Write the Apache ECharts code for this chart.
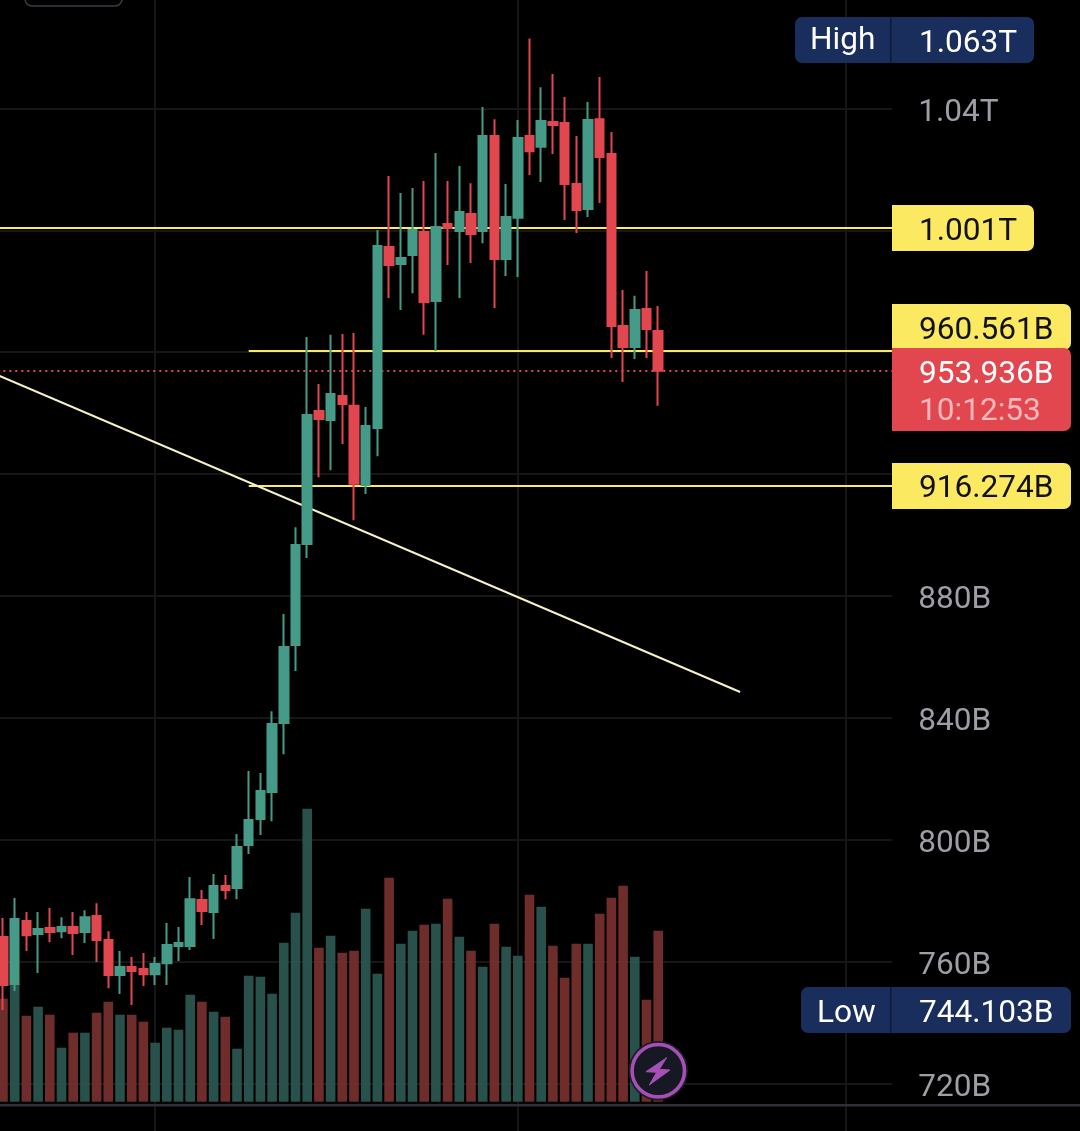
<!DOCTYPE html>
<html>
<head>
<meta charset="utf-8">
<style>html,body{margin:0;padding:0;background:#000}#c{width:1080px;height:1131px}</style>
<script src="https://cdn.jsdelivr.net/npm/echarts@6/dist/echarts.min.js"></script>
</head>
<body>
<div id="c"></div>
<script>
// Daily candles: [open, close, low, high], in billions
const candles = [
[768.1,752.3,744.1,774.3],[752.7,774.0,750.4,780.9],[773.3,768.7,763.5,776.3],[769.1,770.7,756.3,776.3],
[771.0,769.7,766.4,777.6],[770.0,771.4,767.7,774.6],[771.4,769.4,762.2,776.3],[769.7,774.6,766.1,776.9],
[775.0,767.1,759.9,779.2],[767.1,755.6,751.3,770.0],[755.6,758.2,749.4,763.5],[758.2,756.9,745.8,761.5],
[757.6,755.9,752.0,762.8],[755.9,759.2,752.3,761.5],[759.5,765.5,752.3,772.7],[765.1,766.1,760.2,771.4],
[765.1,780.5,763.8,787.8],[780.2,776.6,772.0,783.5],[776.3,784.8,767.4,788.8],[784.8,783.5,780.5,788.4],
[784.2,797.6,780.5,801.9],[798.3,806.5,795.3,822.6],[806.8,816.0,801.6,821.9],[815.7,838.0,806.1,842.2],
[838.3,863.3,828.1,874.1],[863.9,896.7,855.4,902.6],[897.1,939.4,892.5,965.0],[940.7,938.1,919.0,949.6],
[937.8,946.3,921.3,965.7],[945.6,943.0,929.9,966.0],[942.4,916.8,904.9,966.3],[916.4,935.8,913.5,942.0],
[935.1,994.9,925.9,1000.1],[994.5,988.6,977.8,1017.8],[989.0,990.9,973.9,1012.3],[991.9,1000.1,979.4,1013.9],
[999.5,976.5,965.7,1016.2],[976.8,1001.1,960.4,1025.4],[1002.1,1000.8,988.6,1016.2],[999.8,1006.0,977.8,1021.1],
[1005.4,998.8,989.3,1015.5],[999.8,1031.0,995.8,1040.5],[1031.0,990.6,974.5,1036.5],[990.6,1004.4,985.0,1015.2],
[1004.1,1030.3,984.7,1036.2],[1031.0,1026.0,1018.2,1063.0],[1027.4,1035.9,1015.9,1047.0],[1035.6,1034.6,1025.1,1051.3],
[1035.2,1015.2,1003.4,1043.8],[1015.2,1006.7,999.1,1031.0],[1007.0,1036.2,1004.4,1042.1],[1036.5,1024.1,1009.0,1050.3],
[1025.1,968.6,958.1,1032.3],[968.6,961.7,950.2,980.4],[961.7,973.9,957.8,978.5],[974.2,967.6,958.1,986.7],
[967.0,953.936,942.4,975.2]
];
// Volume per candle
const volumes = [
10.3,11.8,8.6,9.5,8.7,5.4,6.9,6.9,8.9,10.0,8.7,8.7,8.0,5.9,7.4,7.2,10.7,10.0,9.0,8.5,
5.3,12.6,12.5,10.8,15.9,18.9,29.3,15.4,16.6,14.9,15.1,19.3,12.8,22.4,15.8,17.1,17.7,17.8,20.3,16.5,
15.1,13.5,17.8,15.5,14.6,20.7,19.5,15.6,12.4,15.8,15.8,18.8,20.4,21.6,14.5,10.2,17.1
];
const leadingBlanks = 1;
const trailingBlanks = 20;
const gridLineIndexes = [14, 45, 73];
const priceTicks = {720:'720B',760:'760B',800:'800B',840:'840B',880:'880B',1040:'1.04T'};
const levelFull = 1001;
const levelUpper = 960.561;
const levelLower = 916.274;
const lastPrice = 953.936;
const trendStart = [0, 953.4];
const trendEnd = [64, 848.5];

const YELLOW = '#fbe961', RED = '#e2474f', GREEN = '#459b87', NAVY = '#1a2e5e';
const FONT = 'Roboto';
const total = leadingBlanks + candles.length + trailingBlanks;
const categories = Array.from({length: total}, (_, i) => 'D' + i);
const pad = arr => [...Array(leadingBlanks).fill('-'), ...arr, ...Array(trailingBlanks).fill('-')];
const lastIdx = total - 1;
const startIdx = 22;

const volData = volumes.map((v, i) => ({
  value: v,
  itemStyle: {color: candles[i][1] >= candles[i][0] ? 'rgba(43,88,83,0.92)' : 'rgba(119,49,46,0.92)'}
}));

const hLine = (v, from, color, type) => [
  {coord: [from, v], lineStyle: {color, width: 2, type: type || 'solid'}},
  {coord: [lastIdx, v]}
];

function tag(x, y, w, h, fill, r) {
  return {type: 'rect', z: 50, shape: {x, y, width: w, height: h, r}, style: {fill}};
}
function label(x, cy, text, fill, z) {
  return {type: 'text', z: z || 60, x, y: cy + 3.5, style: {text, fill, font: '31.6px ' + FONT, textVerticalAlign: 'middle', textAlign: 'left'}};
}
const plainX = gridIndex => ({type: 'category', gridIndex, data: categories, boundaryGap: false,
  axisLine: {show: false}, axisTick: {show: false}, axisLabel: {show: false}, splitLine: {show: false}});

const option = {
  backgroundColor: '#000',
  animation: false,
  grid: [
    {left: -8.7, top: -13.4, width: 900.9, height: 1218.8, outerBoundsMode: 'none'},
    {left: -8.7, top: 1.7, width: 900.9, height: 1100, outerBoundsMode: 'none'},
    {left: -8.7, top: -9.2, width: 900.9, height: 1218.8, outerBoundsMode: 'none'}
  ],
  xAxis: [
    {...plainX(0), splitLine: {show: true, interval: i => gridLineIndexes.includes(i), lineStyle: {color: '#161616', width: 2}}},
    plainX(1),
    plainX(2)
  ],
  yAxis: [
    {type: 'value', gridIndex: 0, position: 'right', min: 680, max: 1080, interval: 40,
     axisLine: {show: false}, axisTick: {show: false}, axisLabel: {show: false},
     splitLine: {show: true, lineStyle: {color: '#161616', width: 2}}},
    {type: 'value', gridIndex: 1, min: 0, max: 110, show: false, splitLine: {show: false}},
    {type: 'value', gridIndex: 2, position: 'right', min: 680, max: 1080, interval: 40,
     axisLine: {show: false}, axisTick: {show: false}, splitLine: {show: false},
     axisLabel: {margin: 26, color: '#9d9ea6', fontFamily: FONT, fontSize: 31.6,
                 formatter: v => priceTicks[v] || ''}}
  ],
  series: [
    {type: 'bar', xAxisIndex: 1, yAxisIndex: 1, data: pad(volData), barWidth: 9.6, z: 2, silent: true},
    {type: 'line', xAxisIndex: 0, yAxisIndex: 0, data: [], z: 1, silent: true,
     markLine: {silent: true, z: 1, symbol: 'none', animation: false, label: {show: false},
       data: [
         hLine(levelFull, 0, YELLOW),
         hLine(levelUpper, startIdx, YELLOW),
         hLine(levelLower, startIdx, YELLOW),
         hLine(lastPrice, 0, RED, [2, 4]),
         [{coord: trendStart, lineStyle: {color: '#f7f2c4', width: 2, type: 'solid'}}, {coord: trendEnd}]
       ]}},
    {type: 'candlestick', xAxisIndex: 0, yAxisIndex: 0, data: pad(candles), barWidth: 9, z: 3, silent: true,
     itemStyle: {color: GREEN, color0: RED, borderColor: GREEN, borderColor0: RED, borderWidth: 2}},
    {type: 'line', xAxisIndex: 2, yAxisIndex: 2, data: [], silent: true}
  ],
  graphic: [
    // toolbar stub at the top edge
    {type: 'rect', z: 40, shape: {x: 25, y: -20, width: 97, height: 26, r: 7}, style: {fill: 'transparent', stroke: '#3a3b45', lineWidth: 1.5}},
    // baseline
    {type: 'rect', z: 10, shape: {x: 0, y: 1104, width: 1080, height: 2.5}, style: {fill: '#2f2f3d'}},
    // High tag
    tag(795, 17, 239, 46, NAVY, 7), {type: 'rect', z: 55, shape: {x: 890, y: 17, width: 1.5, height: 46}, style: {fill: '#0f1a36'}},
    label(810, 38, 'High', '#fff'), label(919, 41, '1.063T', '#fff'),
    // Low tag
    tag(801, 987, 270, 46, NAVY, 7), {type: 'rect', z: 55, shape: {x: 890, y: 987, width: 1.5, height: 46}, style: {fill: '#0f1a36'}},
    label(817, 1011, 'Low', '#fff'), label(919, 1011, '744.103B', '#fff'),
    // Level tags
    tag(892, 205, 142, 46, YELLOW, [0, 7, 7, 0]), label(919, 229, '1.001T', '#111'),
    tag(892, 304, 179, 46, YELLOW, [0, 7, 7, 0]), label(919, 328, '960.561B', '#111'),
    tag(892, 348, 179, 83, RED, [0, 7, 7, 0]), label(919, 372, '953.936B', '#fff', 61), label(919, 409, '10:12:53', '#f5b9bd', 61),
    tag(892, 463, 179, 46, YELLOW, [0, 7, 7, 0]), label(919, 486, '916.274B', '#111'),
    // bolt button
    {type: 'circle', z: 70, shape: {cx: 658.3, cy: 1070.7, r: 29.7}, style: {fill: '#1b1c27'}},
    {type: 'circle', z: 71, shape: {cx: 658.3, cy: 1070.7, r: 26.2}, style: {fill: '#161824', stroke: '#a64fb5', lineWidth: 3.6}},
    {type: 'polygon', z: 72, shape: {points: [[666.7,1057.7],[646,1071.7],[656.7,1072.3],[649.3,1085],[670,1070],[659.3,1069.3]]},
     style: {fill: '#a64fb5', stroke: '#a64fb5', lineWidth: 1, lineJoin: 'round'}}
  ]
};
echarts.init(document.getElementById('c'), null, {renderer: 'canvas'}).setOption(option);
</script>
</body>
</html>
